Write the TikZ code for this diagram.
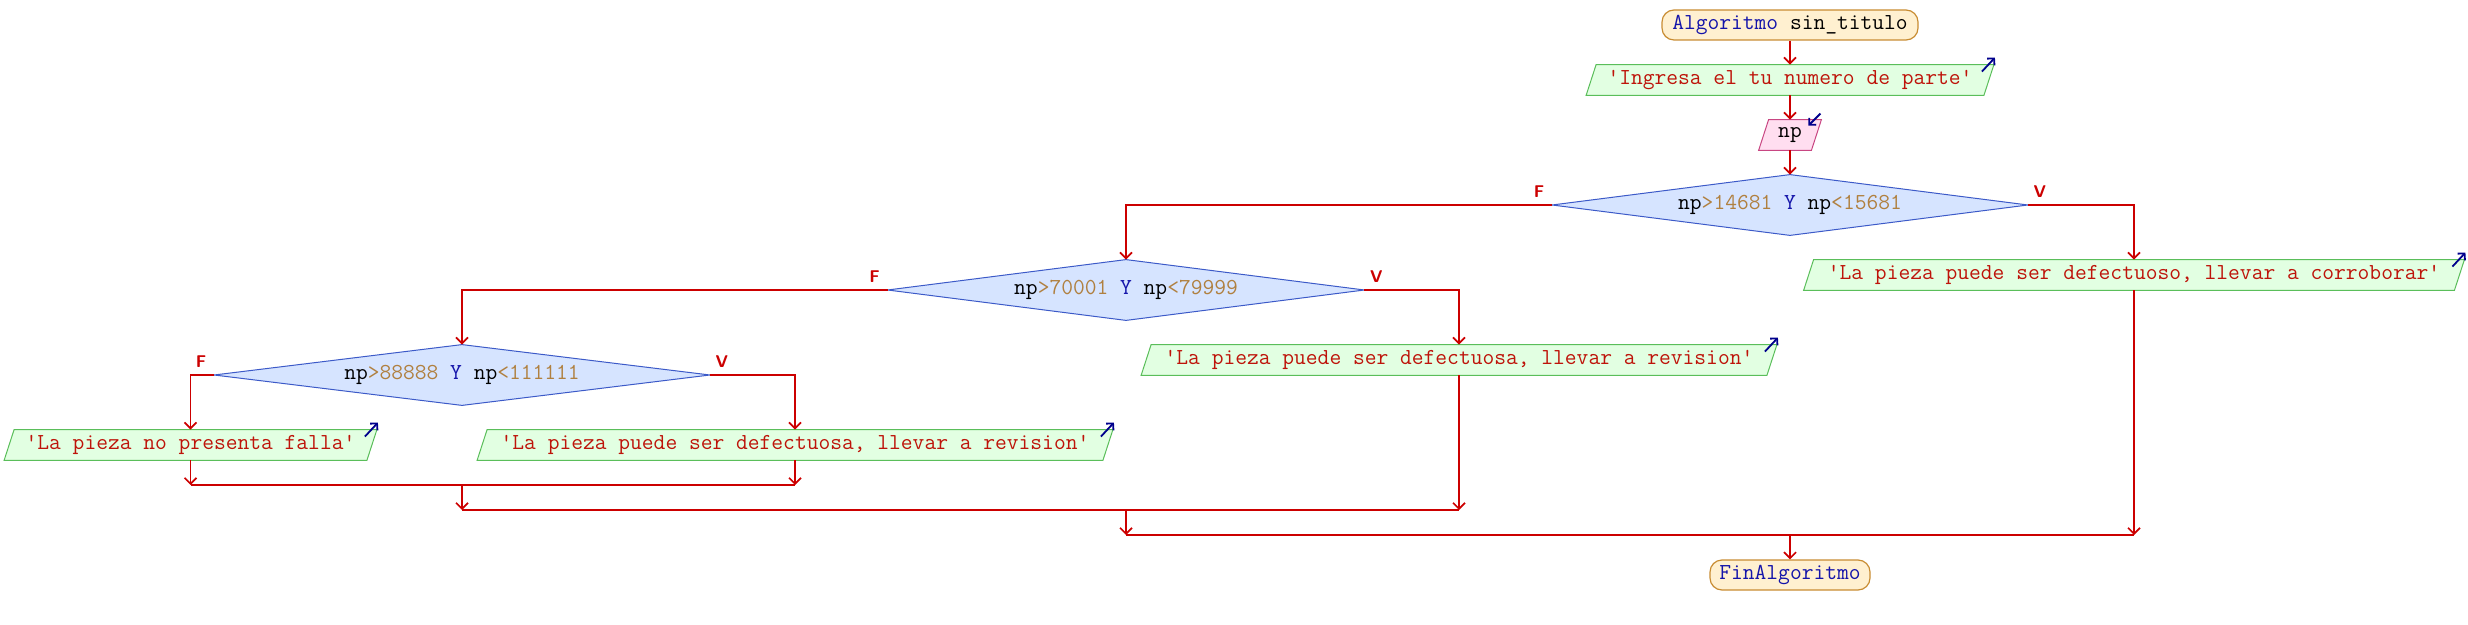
\documentclass[tikz,border=0pt]{standalone}
\usetikzlibrary{calc,arrows.meta}
\definecolor{flowred}{RGB}{204,0,0}
\definecolor{txtred}{RGB}{190,20,10}
\definecolor{kwblue}{RGB}{20,20,170}
\definecolor{numtan}{RGB}{176,128,64}
\definecolor{termfill}{RGB}{255,240,208}
\definecolor{termdraw}{RGB}{200,140,50}
\definecolor{outfill}{RGB}{226,255,226}
\definecolor{outdraw}{RGB}{90,190,90}
\definecolor{infill}{RGB}{255,222,240}
\definecolor{indraw}{RGB}{200,70,130}
\definecolor{decfill}{RGB}{214,228,255}
\definecolor{decdraw}{RGB}{60,90,200}
\definecolor{iconblue}{RGB}{0,0,140}
\pgfdeclarelayer{bg}
\pgfsetlayers{bg,main}
\newcommand\sq{\textquotesingle}
\newcommand\drawpara[2]{\draw[#2] ($(#1.south west)+(-5,0)$) -- ($(#1.north west)+(5,0)$) -- ($(#1.north east)+(5,0)$) -- ($(#1.south east)+(-5,0)$) -- cycle;}
\newcommand\outicon[1]{\draw[icon] ($(#1.north east)+(-7,7)$) -- ($(#1.north east)+(6,-7)$);}
\tikzset{
  every node/.style={font=\fontsize{11.43}{13}\selectfont\ttfamily, inner sep=0pt},
  term/.style={draw=termdraw, fill=termfill, line width=0.6pt, rounded corners=6pt, minimum height=15pt},
  box/.style={minimum height=15pt},
  flow/.style={draw=flowred, line width=0.85pt, -{Straight Barb[length=3pt,width=6pt]}},
  plain/.style={draw=flowred, line width=0.85pt},
  lbl/.style={text=flowred, font=\sffamily\bfseries\fontsize{8.5}{9}\selectfont},
  icon/.style={draw=iconblue, line width=0.9pt, -{Straight Barb[length=2.4pt,width=5pt]}},
  outshape/.style={draw=outdraw, fill=outfill, line width=0.5pt},
  inshape/.style={draw=indraw, fill=infill, line width=0.5pt},
  decshape/.style={draw=decdraw, fill=decfill, line width=0.5pt},
}
\begin{document}
\begin{tikzpicture}[x=0.5pt,y=-0.5pt]
\useasboundingbox (0,0) rectangle (2468,625);
% nodes
\node[term, minimum width=128pt] (start) at (1790,25) {\textcolor{kwblue}{Algoritmo} sin\_titulo};
\node[box, minimum width=198.5pt, text=txtred] (out1) at (1790,80) {\sq Ingresa el tu numero de parte\sq};
\node[box, minimum width=26pt] (np) at (1790,135) {np};
\node[box, minimum width=237.5pt, minimum height=30pt] (d1) at (1790,205) {np\textcolor{numtan}{>14681} \textcolor{kwblue}{Y} np\textcolor{numtan}{<15681}};
\node[box, minimum width=325pt, text=txtred] (corro) at (2134,275) {\sq La pieza puede ser defectuoso, llevar a corroborar\sq};
\node[box, minimum width=238pt, minimum height=30pt] (d2) at (1126,290) {np\textcolor{numtan}{>70001} \textcolor{kwblue}{Y} np\textcolor{numtan}{<79999}};
\node[box, minimum width=312.5pt, text=txtred] (rev2) at (1459,360) {\sq La pieza puede ser defectuosa, llevar a revision\sq};
\node[box, minimum width=247.5pt, minimum height=30pt] (d3) at (462,375) {np\textcolor{numtan}{>88888} \textcolor{kwblue}{Y} np\textcolor{numtan}{<111111}};
\node[box, minimum width=181pt, text=txtred] (nofalla) at (190.5,445) {\sq La pieza no presenta falla\sq};
\node[box, minimum width=312.5pt, text=txtred] (rev1) at (795,445) {\sq La pieza puede ser defectuosa, llevar a revision\sq};
\node[term, minimum width=80pt, text=kwblue] (fin) at (1790,575) {FinAlgoritmo};
% shapes behind text
\begin{pgfonlayer}{bg}
  \drawpara{out1}{outshape}
  \drawpara{np}{inshape}
  \drawpara{corro}{outshape}
  \drawpara{rev2}{outshape}
  \drawpara{nofalla}{outshape}
  \drawpara{rev1}{outshape}
  \draw[decshape] (d1.west) -- (d1.north) -- (d1.east) -- (d1.south) -- cycle;
  \draw[decshape] (d2.west) -- (d2.north) -- (d2.east) -- (d2.south) -- cycle;
  \draw[decshape] (d3.west) -- (d3.north) -- (d3.east) -- (d3.south) -- cycle;
\end{pgfonlayer}
% icons
\outicon{out1}
\outicon{corro}
\outicon{rev2}
\outicon{nofalla}
\outicon{rev1}
\draw[icon] ($(np.north east)+(4,-6)$) -- ($(np.north east)+(-8,6)$);
% branch labels
\node[lbl] (f1) at ($(d1.west)+(-13,-13)$) {F};
\node[lbl] (v1) at ($(d1.east)+(12,-13)$) {V};
\node[lbl] (f2) at ($(d2.west)+(-13,-13)$) {F};
\node[lbl] (v2) at ($(d2.east)+(12,-13)$) {V};
\node[lbl] (f3) at ($(d3.west)+(-13,-13)$) {F};
\node[lbl] (v3) at ($(d3.east)+(12,-13)$) {V};
% connectors
\draw[flow] (start.south) -- (out1.north);
\draw[flow] (out1.south) -- (np.north);
\draw[flow] (np.south) -- (d1.north);
\draw[flow] (d1.west) -| (d2.north);
\draw[flow] (d1.east) -| (corro.north);
\draw[flow] (d2.west) -| (d3.north);
\draw[flow] (d2.east) -| (rev2.north);
\draw[flow] (d3.west) -| (nofalla.north);
\draw[flow] (d3.east) -| (rev1.north);
% merges
\coordinate (j3) at (462,485);
\coordinate (j2) at (1126,510);
\coordinate (j1) at (1790,535);
\draw[flow] (nofalla.south) -- (nofalla.south |- j3);
\draw[flow] (rev1.south) -- (rev1.south |- j3);
\draw[plain] (nofalla.south |- j3) -- (rev1.south |- j3);
\draw[flow] (j3) -- (j3 |- j2);
\draw[flow] (rev2.south) -- (rev2.south |- j2);
\draw[plain] (j3 |- j2) -- (rev2.south |- j2);
\draw[flow] (j2) -- (j2 |- j1);
\draw[flow] (corro.south) -- (corro.south |- j1);
\draw[plain] (j2 |- j1) -- (corro.south |- j1);
\draw[flow] (j1) -- (fin.north);
\end{tikzpicture}
\end{document}
